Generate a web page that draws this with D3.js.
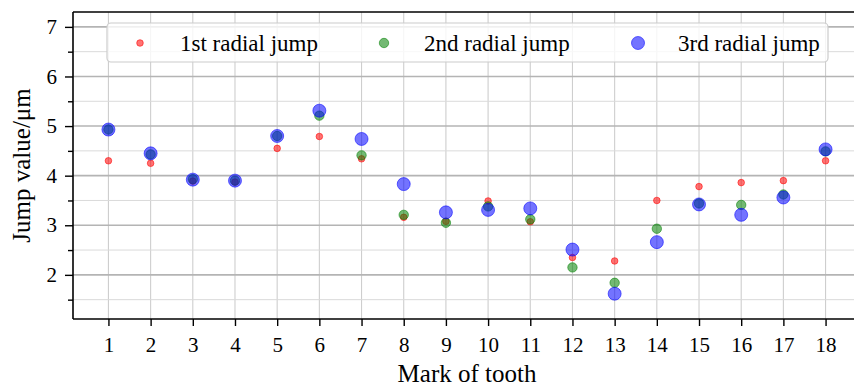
<!DOCTYPE html>
<html>
<head>
<meta charset="utf-8">
<script src="https://cdn.jsdelivr.net/npm/d3@7"></script>
<style>
  body { margin: 0; background: #fff; }
  svg { display: block; }
  svg text { font-family: 'Liberation Serif', 'Times New Roman', serif; fill: #000; }
</style>
</head>
<body>
<div class="chart"></div>
<script>
const teeth = d3.range(1, 19)
const firstJump = [4.30, 4.25, 3.89, 3.87, 4.55, 4.79, 4.34, 3.16, 3.08, 3.49, 3.07, 2.35, 2.28, 3.50, 3.78, 3.86, 3.90, 4.30]
const secondJump = [4.93, 4.43, 3.93, 3.90, 4.80, 5.21, 4.41, 3.21, 3.05, 3.38, 3.12, 2.15, 1.84, 2.93, 3.44, 3.41, 3.62, 4.49]
const thirdJump = [4.93, 4.45, 3.92, 3.90, 4.80, 5.31, 4.74, 3.83, 3.26, 3.31, 3.34, 2.51, 1.62, 2.66, 3.42, 3.21, 3.56, 4.53]
const yTicks = [2, 3, 4, 5, 6, 7]
const yMinorTicks = [1.5, 2.5, 3.5, 4.5, 5.5, 6.5]

const series = [
  { name: '1st radial jump', values: firstJump, color: '#ff0000', r: 3.3 },
  { name: '2nd radial jump', values: secondJump, color: '#008000', r: 4.7 },
  { name: '3rd radial jump', values: thirdJump, color: '#0000ff', r: 6.5 }
]

const W = 854
const H = 387
const plot = { left: 73, top: 12, right: 861, bottom: 319 }

const scaleX = d3.scaleLinear().domain([0.16, 18.84]).range([plot.left, plot.right])
const scaleY = d3.scaleLinear().domain([1.11, 7.3]).range([plot.bottom, plot.top])

const svg = d3.select('.chart').append('svg')
  .attr('width', W)
  .attr('height', H)

// grid
const grid = svg.append('g').attr('class', 'grid')
grid.selectAll('line.vx').data(teeth).enter().append('line')
  .attr('class', 'vx')
  .attr('x1', d => scaleX(d)).attr('x2', d => scaleX(d))
  .attr('y1', plot.top).attr('y2', plot.bottom)
  .attr('stroke', '#cecece').attr('stroke-width', 1.1)
grid.selectAll('line.minor').data(yMinorTicks).enter().append('line')
  .attr('class', 'minor')
  .attr('x1', plot.left).attr('x2', plot.right)
  .attr('y1', d => scaleY(d)).attr('y2', d => scaleY(d))
  .attr('stroke', '#dadada').attr('stroke-width', 1)
grid.selectAll('line.major').data(yTicks).enter().append('line')
  .attr('class', 'major')
  .attr('x1', plot.left).attr('x2', plot.right)
  .attr('y1', d => scaleY(d)).attr('y2', d => scaleY(d))
  .attr('stroke', '#b4b4b4').attr('stroke-width', 1.6)

// points
const points = svg.append('g').attr('class', 'points')
series.forEach(s => {
  points.append('g').selectAll('circle').data(s.values).enter().append('circle')
    .attr('cx', (d, i) => scaleX(teeth[i]))
    .attr('cy', d => scaleY(d))
    .attr('r', s.r)
    .attr('fill', s.color)
    .attr('fill-opacity', 0.55)
    .attr('stroke', s.color)
    .attr('stroke-opacity', 0.55)
    .attr('stroke-width', 1)
})

// axes
const axisBottom = d3.axisBottom(scaleX).tickValues(teeth).tickSize(7).tickPadding(11).tickFormat(d3.format('d'))
const axisLeft = d3.axisLeft(scaleY).tickValues(yTicks).tickSize(8).tickPadding(8).tickFormat(d3.format('d'))
const axisLeftMinor = d3.axisLeft(scaleY).tickValues(yMinorTicks).tickSize(5).tickFormat('')

svg.append('g')
  .attr('transform', `translate(0,${plot.bottom})`)
  .call(axisBottom)
svg.append('g')
  .attr('transform', `translate(${plot.left},0)`)
  .call(axisLeft)
svg.append('g')
  .attr('transform', `translate(${plot.left},0)`)
  .call(axisLeftMinor)

svg.selectAll('.tick line').attr('stroke', '#000').attr('stroke-width', 1.4)
svg.selectAll('.domain').remove()
svg.selectAll('.tick text')
  .attr('fill', '#000')
  .style('font-size', '21px')
  .style('font-family', "'Liberation Serif', serif")

// spines
const spines = svg.append('g').attr('stroke', '#000').attr('stroke-width', 1.6)
spines.append('line').attr('x1', plot.left).attr('x2', plot.left).attr('y1', plot.top).attr('y2', plot.bottom)
spines.append('line').attr('x1', plot.left).attr('x2', W).attr('y1', plot.bottom).attr('y2', plot.bottom)
spines.append('line').attr('x1', plot.left).attr('x2', W).attr('y1', plot.top).attr('y2', plot.top)

// axis labels
svg.append('text')
  .attr('x', 467)
  .attr('y', 382)
  .attr('text-anchor', 'middle')
  .style('font-size', '25px')
  .text('Mark of tooth')

svg.append('text')
  .attr('transform', `translate(30,${(plot.top + plot.bottom) / 2}) rotate(-90)`)
  .attr('text-anchor', 'middle')
  .style('font-size', '25px')
  .text('Jump value/μm')

// legend
const legend = svg.append('g').attr('class', 'legend')
legend.append('rect')
  .attr('x', 107).attr('y', 23)
  .attr('width', 721).attr('height', 39)
  .attr('rx', 4)
  .attr('fill', '#fff').attr('fill-opacity', 0.8)
  .attr('stroke', '#cccccc').attr('stroke-width', 1.2)

const legendX = [140, 384, 638]
const item = legend.selectAll('g.item').data(series).enter().append('g')
  .attr('class', 'item')
  .attr('transform', (d, i) => `translate(${legendX[i]},43)`)
item.append('circle')
  .attr('r', d => d.r)
  .attr('fill', d => d.color).attr('fill-opacity', 0.55)
  .attr('stroke', d => d.color).attr('stroke-opacity', 0.55)
  .attr('stroke-width', 1)
item.append('text')
  .attr('x', 40)
  .attr('y', 8)
  .style('font-size', '23px')
  .style('font-family', "'Liberation Serif', serif")
  .text(d => d.name)
</script>
</body>
</html>
